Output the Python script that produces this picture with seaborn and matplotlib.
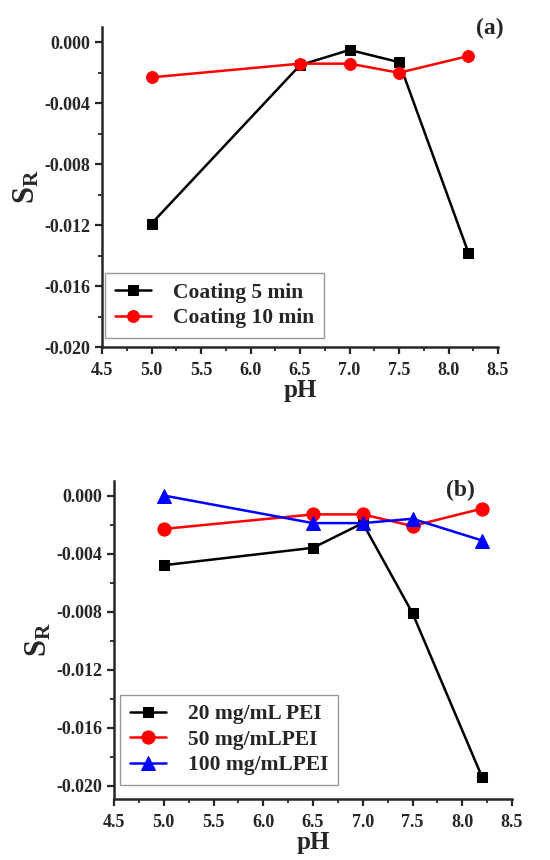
# Courbes S_R en fonction du pH, deux panneaux (a) et (b)

import seaborn as sns
import matplotlib.pyplot as plt
import pandas as pd
from matplotlib.ticker import MultipleLocator, FormatStrFormatter

######################################################################################################
# Données
######################################################################################################
ph = [5.0, 6.5, 7.0, 7.5, 8.2]

# panneau (a)
coating_5 = [-0.0119, -0.0015, -0.0005, -0.0013, -0.0138]
coating_10 = [-0.0023, -0.0014, -0.0014, -0.0020, -0.0009]
labels_a = ["Coating 5 min", "Coating 10 min"]

# panneau (b)
pei_20 = [-0.0048, -0.0036, -0.0019, -0.0081, -0.0194]
pei_50 = [-0.0023, -0.0013, -0.0013, -0.0021, -0.0009]
pei_100 = [0.0000, -0.0019, -0.0019, -0.0016, -0.0031]
labels_b = ["20 mg/mL PEI", "50 mg/mLPEI", "100 mg/mLPEI"]

######################################################################################################
# Style
######################################################################################################
sns.set_style("ticks")
plt.rcParams["font.family"] = ["Liberation Serif", "DejaVu Serif"]
plt.rcParams["font.weight"] = "bold"
plt.rcParams["axes.labelweight"] = "bold"
plt.rcParams["axes.linewidth"] = 1.8
plt.rcParams["mathtext.fontset"] = "custom"
plt.rcParams["mathtext.rm"] = "Liberation Serif:bold"
plt.rcParams["mathtext.bf"] = "Liberation Serif:bold"
plt.rcParams["mathtext.it"] = "Liberation Serif:bold"


def panneau(ax, series, labels, colors, markers, sizes, ylim, tag, tag_xy, leg_box):
    df = pd.DataFrame({
        "pH": ph * len(series),
        "S": [v for s in series for v in s],
        "serie": [lab for lab in labels for _ in ph],
    })
    for lab, col, mk, ms in zip(labels, colors, markers, sizes):
        sub = df[df["serie"] == lab]
        sns.lineplot(data=sub, x="pH", y="S", ax=ax, color=col, marker=mk,
                     markersize=ms, markeredgecolor=col, linewidth=1.8, label=lab)
    ax.set_xlim(4.5, 8.5)
    ax.set_ylim(*ylim)
    ax.xaxis.set_major_locator(MultipleLocator(0.5))
    ax.xaxis.set_minor_locator(MultipleLocator(0.25))
    ax.yaxis.set_major_locator(MultipleLocator(0.004))
    ax.yaxis.set_minor_locator(MultipleLocator(0.002))
    ax.xaxis.set_major_formatter(FormatStrFormatter("%.1f"))
    ax.yaxis.set_major_formatter(FormatStrFormatter("%.3f"))
    ax.tick_params(which="major", length=5, width=1.6, labelsize=13)
    ax.tick_params(axis="x", which="major", pad=6)
    ax.tick_params(which="minor", length=3, width=1.3)
    for lbl in ax.get_xticklabels() + ax.get_yticklabels():
        lbl.set_fontweight("bold")
    sns.despine(ax=ax)
    ax.set_xlabel("pH", fontsize=18, fontweight="bold", labelpad=0)
    ax.set_ylabel(r"$\mathrm{S}_\mathrm{R}$", fontsize=22, labelpad=2)
    ax.text(tag_xy[0], tag_xy[1], tag, transform=ax.transAxes, fontsize=17,
            fontweight="bold", ha="right", va="top")
    leg = ax.legend(loc="lower left", bbox_to_anchor=leg_box, frameon=True, fancybox=False,
                    edgecolor="#808080", prop={"weight": "bold", "size": 15.5},
                    handlelength=1.7, handletextpad=1.0, borderpad=0.45, labelspacing=0.25,
                    borderaxespad=0)
    leg.get_frame().set_linewidth(1.0)


fig = plt.figure(figsize=(5.5, 8.6), dpi=100)
ax_a = fig.add_axes([0.1855, 0.5965, 0.72, 0.372])
ax_b = fig.add_axes([0.2073, 0.0709, 0.7236, 0.3698])

panneau(ax_a, [coating_5, coating_10], labels_a, ["black", "red"], ["s", "o"], [7.5, 8.5],
        (-0.020, 0.001), "(a)", (1.015, 1.03), (0.008, 0.028))
panneau(ax_b, [pei_20, pei_50, pei_100], labels_b, ["black", "red", "blue"], ["s", "o", "^"],
        [7.5, 9.5, 10.5], (-0.0209, 0.001), "(b)", (0.907, 1.005), (0.015, 0.044))

fig.savefig("out.png", dpi=100)
